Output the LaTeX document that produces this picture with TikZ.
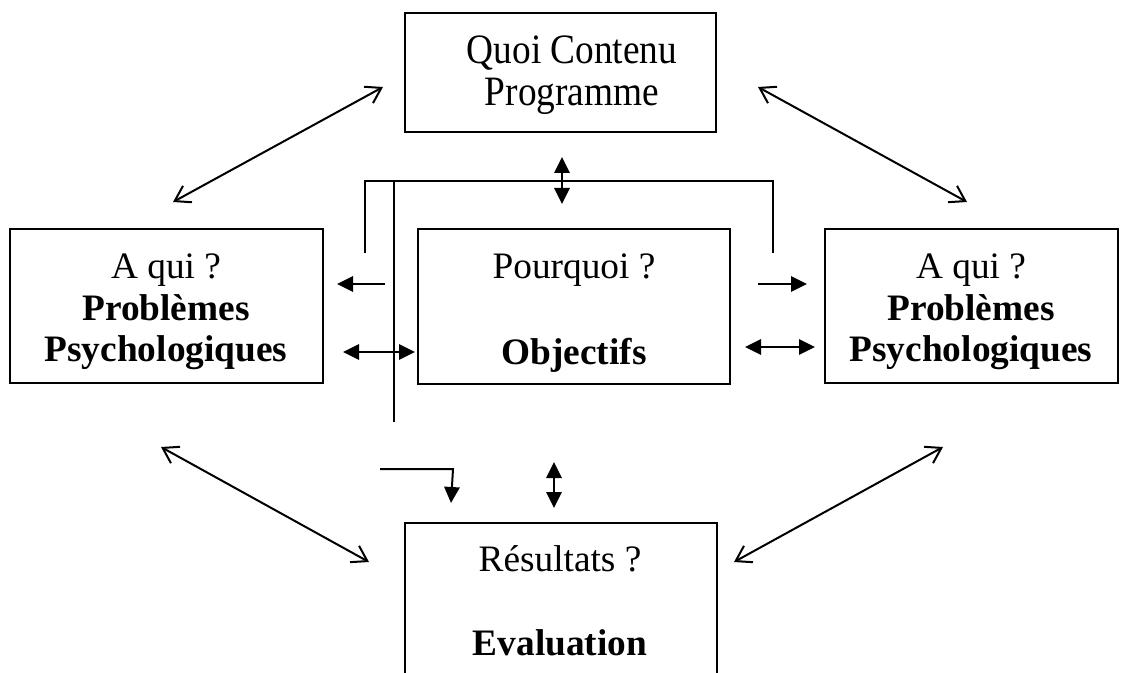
\documentclass[tikz,border=0pt]{standalone}
\usepackage{graphicx}
\usepackage{fontspec}
\setmainfont{Liberation Serif}
\usetikzlibrary{arrows.meta,fit}
\begin{document}
\begin{tikzpicture}[x=0.75pt,y=-0.75pt,
  box/.style={draw, line width=1.8pt, inner sep=0pt},
  txt/.style={font=\fontsize{28}{33}\selectfont, inner sep=0pt, anchor=base},
  btxt/.style={font=\fontsize{28}{33}\selectfont\bfseries, inner sep=0pt, anchor=base},
  link/.style={line width=1.5pt},
  dbl/.style={link, {Straight Barb[length=11pt,width=14pt]}-{Straight Barb[length=11pt,width=14pt]}},
  tip/.style={link, -{Triangle[length=12pt,width=11.5pt]}},
  dtip/.style={link, {Triangle[length=12pt,width=11.5pt]}-{Triangle[length=12pt,width=11.5pt]}},
]
\useasboundingbox (0,0) rectangle (1126,673);

% boxes
\coordinate (tNW) at (405,13);  \coordinate (tSE) at (716,132);
\coordinate (lNW) at (10,229);  \coordinate (lSE) at (323,383);
\coordinate (mNW) at (418,229); \coordinate (mSE) at (730,384);
\coordinate (rNW) at (825,229); \coordinate (rSE) at (1118,383);
\coordinate (eNW) at (405,523); \coordinate (eSE) at (717,673);
\node[box, fit=(tNW)(tSE)] (quoi) {};
\node[box, fit=(lNW)(lSE)] (left) {};
\node[box, fit=(mNW)(mSE)] (mid) {};
\node[box, fit=(rNW)(rSE)] (right) {};
\node[inner sep=0pt, fit=(eNW)(eSE)] (eval) {};
\draw[line width=1.8pt] (eval.south west) -- (eval.north west) -- (eval.north east) -- (eval.south east);

% texts
\node[txt]  (q1) at (572,64)  {\scalebox{1}[1.12]{Quoi Contenu}};
\node[txt]  (q2) at (572,106) {\scalebox{1}[1.12]{Programme}};
\node[txt]  (l1) at (166,279) {A qui ?};
\node[btxt] (l2) at (166,320) {Problèmes};
\node[btxt] (l3) at (166,361) {Psychologiques};
\node[txt]  (m1) at (574,279) {Pourquoi ?};
\node[btxt] (m2) at (574,364) {Objectifs};
\node[txt]  (r1) at (971,279) {A qui ?};
\node[btxt] (r2) at (971,320) {Problèmes};
\node[btxt] (r3) at (971,361) {Psychologiques};
\node[txt]  (e1) at (560,571) {Résultats ?};
\node[btxt] (e2) at (560,655) {Evaluation};

% diagonal double arrows
\coordinate (a1) at (173,202); \coordinate (a2) at (383,87);
\coordinate (b1) at (758,87);  \coordinate (b2) at (967,202);
\coordinate (c1) at (161,447); \coordinate (c2) at (369,562);
\coordinate (d1) at (943,447); \coordinate (d2) at (734,562);
\draw[dbl] (a1) -- (a2);
\draw[dbl] (b1) -- (b2);
\draw[dbl] (c1) -- (c2);
\draw[dbl] (d1) -- (d2);

% bracket lines
\coordinate (k1) at (365,253); \coordinate (k2) at (365,181);
\coordinate (k3) at (773,181); \coordinate (k4) at (773,253);
\draw[link] (k1) -- (k2) -- (k3) -- (k4);
\coordinate (v1) at (394,181); \coordinate (v2) at (394,422);
\draw[link] (v1) -- (v2);

% short arrows
\coordinate (s1) at (385,284); \coordinate (s2) at (337,284);
\coordinate (s3) at (758,284); \coordinate (s4) at (807,284);
\draw[tip] (s1) -- (s2);
\draw[tip] (s3) -- (s4);
\coordinate (h1) at (343,352); \coordinate (h2) at (415,352);
\coordinate (h3) at (745,347); \coordinate (h4) at (815,347);
\draw[dtip] (h1) -- (h2);
\draw[dtip] (h3) -- (h4);
\coordinate (u1) at (562,157); \coordinate (u2) at (562,204);
\draw[dtip] (u1) -- (u2);
\coordinate (w1) at (554,462); \coordinate (w2) at (554,508);
\draw[dtip] (w1) -- (w2);
\coordinate (L1) at (380,469); \coordinate (L2) at (453,469); \coordinate (L3) at (451,503);
\draw[tip] (L1) -- (L2) -- (L3);
\end{tikzpicture}
\end{document}
